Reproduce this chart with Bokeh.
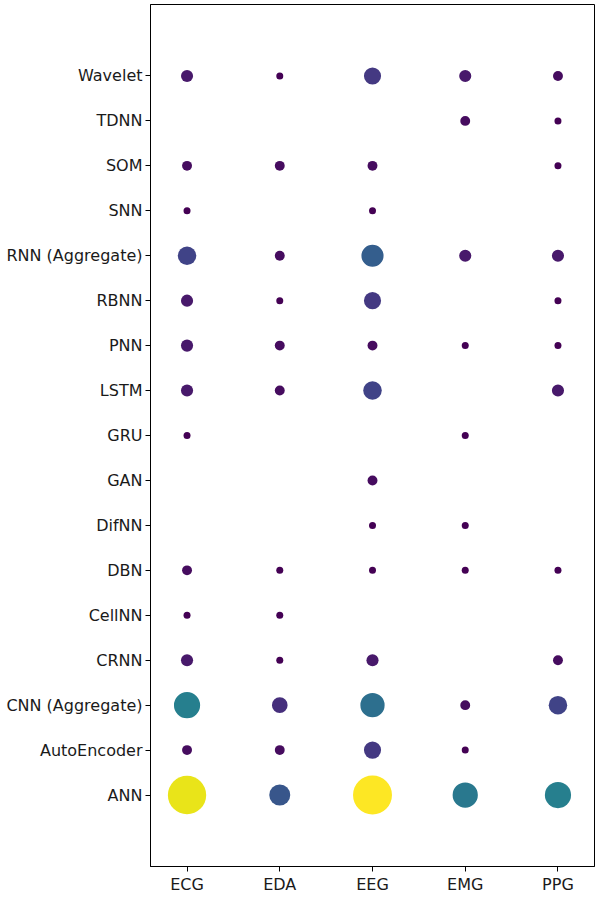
import numpy as np
from bokeh.plotting import figure
from bokeh.models import ColumnDataSource, Range1d, FixedTicker
from bokeh.transform import linear_cmap
from bokeh.palettes import Viridis256
from bokeh.embed import file_html
from bokeh.resources import INLINE

# Methods (bottom to top) and signal types
methods = ["ANN", "AutoEncoder", "CNN (Aggregate)", "CRNN", "CellNN", "DBN", "DifNN",
           "GAN", "GRU", "LSTM", "PNN", "RBNN", "RNN (Aggregate)", "SNN", "SOM",
           "TDNN", "Wavelet"]
signals = ["ECG", "EDA", "EEG", "EMG", "PPG"]

# Number of studies per method (same order as methods), 0 = none
ecg = [30, 2, 14, 3, 1, 2, 0, 0, 1, 3, 3, 3, 7, 1, 2, 0, 3]
eda = [9, 2, 5, 1, 1, 1, 0, 0, 0, 2, 2, 1, 2, 0, 2, 0, 1]
eeg = [31, 6, 12, 3, 0, 1, 1, 2, 0, 7, 2, 6, 10, 1, 2, 0, 6]
emg = [13, 1, 2, 0, 0, 1, 1, 0, 1, 0, 1, 0, 3, 0, 0, 2, 3]
ppg = [14, 0, 7, 2, 0, 1, 0, 0, 0, 3, 1, 1, 3, 0, 1, 1, 2]

columns = [ecg, eda, eeg, emg, ppg]

xs, ys, counts = [], [], []
for j, col in enumerate(columns):
    for i, c in enumerate(col):
        if c > 0:
            xs.append(j)
            ys.append(i)
            counts.append(c)

sizes = [7.0 * np.sqrt(c) for c in counts]
src = ColumnDataSource(dict(x=xs, y=ys, count=counts, size=sizes))

p = figure(width=596, height=896,
           x_range=Range1d(-0.394, len(signals) - 1 + 0.394),
           y_range=Range1d(-1.59, len(methods) - 1 + 1.59),
           output_backend="svg", toolbar_location=None,
           min_border_left=150, min_border_right=2,
           min_border_top=4, min_border_bottom=29)

p.scatter("x", "y", source=src, size="size", marker="circle",
          fill_color=linear_cmap("count", Viridis256, min(counts), max(counts)),
          line_color=None)

p.xgrid.visible = False
p.ygrid.visible = False
p.outline_line_color = "black"
p.outline_line_width = 1
p.outline_line_alpha = 1.0
p.background_fill_color = "white"
p.border_fill_color = "white"

p.xaxis.ticker = FixedTicker(ticks=list(range(len(signals))))
p.xaxis.major_label_overrides = {i: s for i, s in enumerate(signals)}
p.yaxis.ticker = FixedTicker(ticks=list(range(len(methods))))
p.yaxis.major_label_overrides = {i: m for i, m in enumerate(methods)}

for ax in (p.xaxis, p.yaxis):
    ax.major_label_text_font = "DejaVu Sans"
    ax.major_label_text_font_size = "16px"
    ax.major_label_text_color = "#1a1a1a"
    ax.major_tick_out = 5
    ax.major_tick_in = 0
    ax.minor_tick_line_color = None
    ax.major_tick_line_color = "black"
    ax.axis_line_color = "black"
    ax.major_label_standoff = 3

open("out.html", "w").write(file_html(p, INLINE))
